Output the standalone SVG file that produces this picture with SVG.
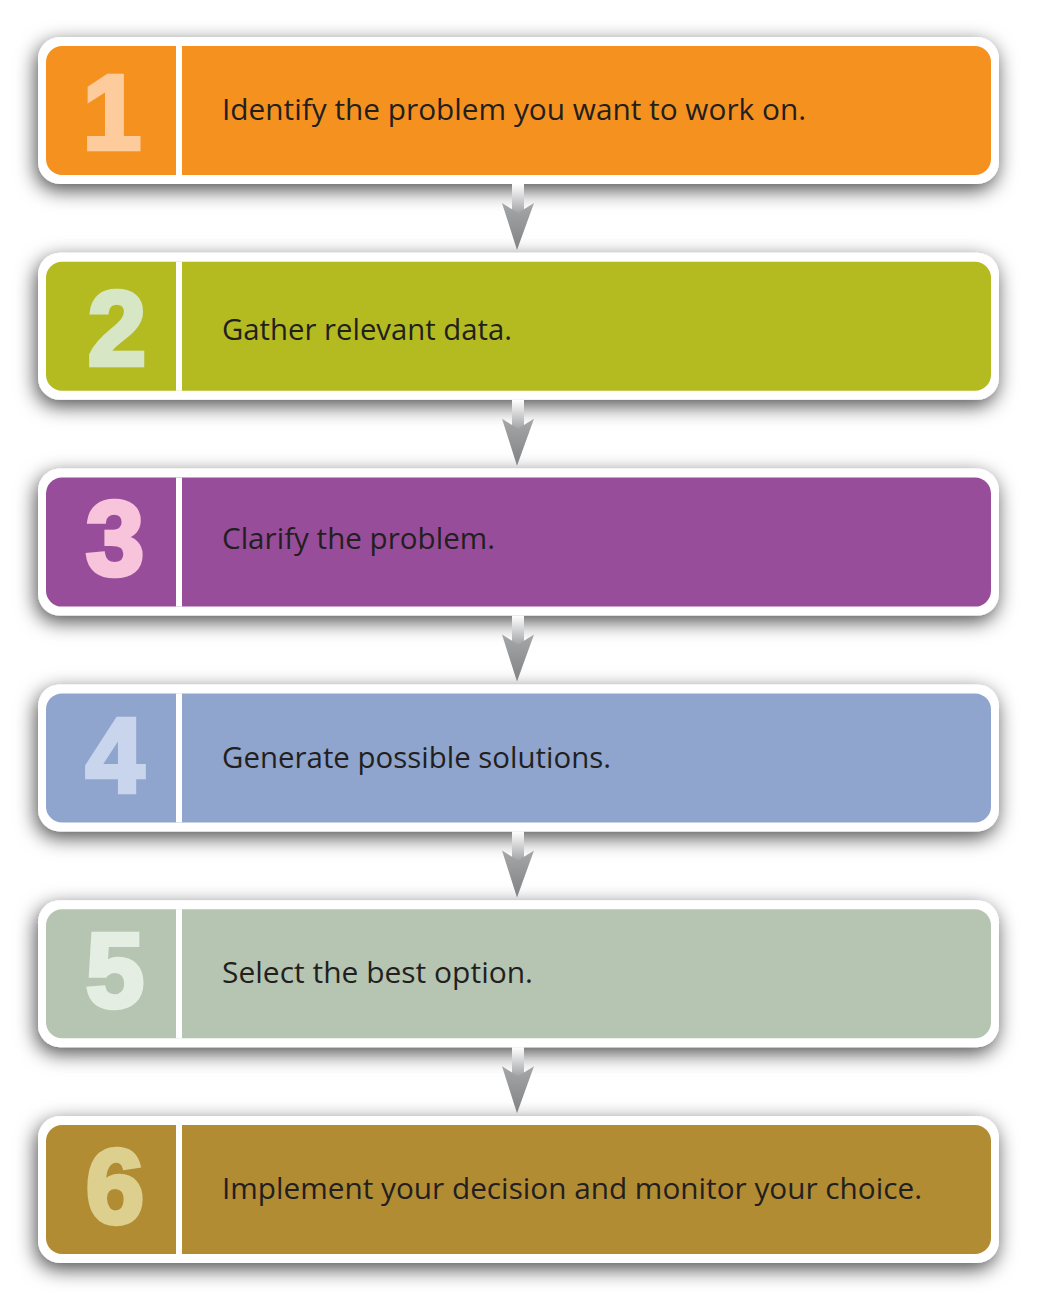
<svg xmlns="http://www.w3.org/2000/svg" width="1037" height="1301" viewBox="0 0 1037 1301">
<defs>
<filter id="sh" x="-10%" y="-40%" width="120%" height="190%">
<feDropShadow dx="-2" dy="6" stdDeviation="10" flood-color="#000" flood-opacity="0.7"/>
</filter>
<linearGradient id="shaft" x1="0" y1="0" x2="0" y2="1">
<stop offset="0" stop-color="#ffffff"/>
<stop offset="1" stop-color="#9a9b9d"/>
</linearGradient>
<linearGradient id="head" x1="0" y1="0" x2="0" y2="1">
<stop offset="0" stop-color="#a6a7a9"/>
<stop offset="1" stop-color="#808284"/>
</linearGradient>
<g id="arrow">
<rect x="512" y="0" width="12" height="32" fill="url(#shaft)"/>
<polygon points="502,19 518,29 534,19 517,66" fill="url(#head)"/>
</g>
</defs>
<style>
.frame{fill:#ffffff;filter:url(#sh)}
.div{fill:#ffffff}
.num{font-family:"Liberation Sans",Arial,sans-serif;font-weight:bold;font-size:105px;text-anchor:middle;stroke-width:4.5;stroke-linejoin:miter}
.lbl{font-family:"Open Sans","Noto Sans",sans-serif;font-size:29px;fill:#231f20}
</style>
<rect width="1037" height="1301" fill="#ffffff"/>
<g id="step1">
<rect class="frame" x="38" y="37" width="961" height="147" rx="22"/>
<rect x="46" y="46" width="945" height="129" rx="16" fill="#f5921f"/>
<rect class="div" x="176" y="46" width="6" height="129"/>
<text class="num" x="112" y="149" fill="#fdcb9c" stroke="#fdcb9c">1</text>
<text class="lbl" x="222" y="120" textLength="584" lengthAdjust="spacingAndGlyphs">Identify the problem you want to work on.</text>
</g>
<g id="step2">
<rect class="frame" x="38" y="252.8" width="961" height="147" rx="22"/>
<rect x="46" y="261.8" width="945" height="129" rx="16" fill="#b4bb21"/>
<rect class="div" x="176" y="261.8" width="6" height="129"/>
<text class="num" x="117" y="365" fill="#d7e6c4" stroke="#d7e6c4">2</text>
<text class="lbl" x="222" y="340" textLength="290" lengthAdjust="spacingAndGlyphs">Gather relevant data.</text>
</g>
<g id="step3">
<rect class="frame" x="38" y="468.6" width="961" height="147" rx="22"/>
<rect x="46" y="477.6" width="945" height="129" rx="16" fill="#984d9b"/>
<rect class="div" x="176" y="477.6" width="6" height="129"/>
<text class="num" x="115" y="575" fill="#f7c4dc" stroke="#f7c4dc">3</text>
<text class="lbl" x="222" y="549" textLength="273" lengthAdjust="spacingAndGlyphs">Clarify the problem.</text>
</g>
<g id="step4">
<rect class="frame" x="38" y="684.4" width="961" height="147" rx="22"/>
<rect x="46" y="693.4" width="945" height="129" rx="16" fill="#8fa5cd"/>
<rect class="div" x="176" y="693.4" width="6" height="129"/>
<text class="num" x="115" y="792" fill="#c8d5ec" stroke="#c8d5ec">4</text>
<text class="lbl" x="222" y="768" textLength="389" lengthAdjust="spacingAndGlyphs">Generate possible solutions.</text>
</g>
<g id="step5">
<rect class="frame" x="38" y="900.2" width="961" height="147" rx="22"/>
<rect x="46" y="909.2" width="945" height="129" rx="16" fill="#b5c5b2"/>
<rect class="div" x="176" y="909.2" width="6" height="129"/>
<text class="num" x="115" y="1007" fill="#e4eee2" stroke="#e4eee2">5</text>
<text class="lbl" x="222" y="983" textLength="311" lengthAdjust="spacingAndGlyphs">Select the best option.</text>
</g>
<g id="step6">
<rect class="frame" x="38" y="1116" width="961" height="147" rx="22"/>
<rect x="46" y="1125" width="945" height="129" rx="16" fill="#b28c33"/>
<rect class="div" x="176" y="1125" width="6" height="129"/>
<text class="num" x="115" y="1223" fill="#ddd08f" stroke="#ddd08f">6</text>
<text class="lbl" x="222" y="1199" textLength="700" lengthAdjust="spacingAndGlyphs">Implement your decision and monitor your choice.</text>
</g>
<g id="connectors">
<use href="#arrow" y="184"/>
<use href="#arrow" y="399.8"/>
<use href="#arrow" y="615.6"/>
<use href="#arrow" y="831.4"/>
<use href="#arrow" y="1047.2"/>
</g>
</svg>
